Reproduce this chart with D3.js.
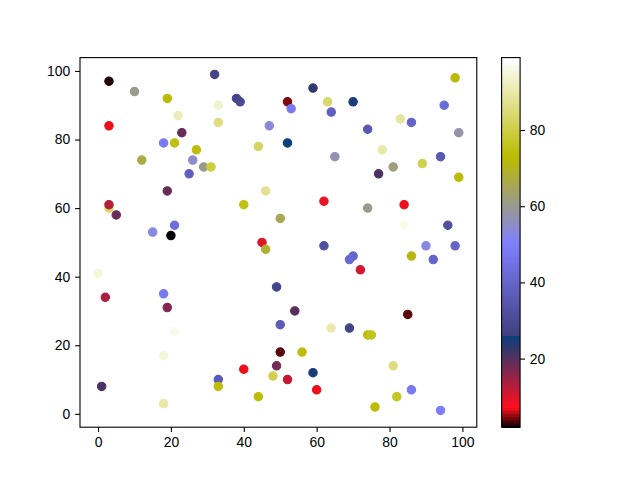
<!DOCTYPE html>
<html>
<head>
<meta charset="utf-8">
<script src="https://cdn.jsdelivr.net/npm/d3@7"></script>
<style>
  html, body { margin: 0; padding: 0; background: #fff; }
  svg text { font-family: "Liberation Sans", Arial, sans-serif; font-size: 13.9px; fill: #000; }
</style>
</head>
<body>
<svg id="chart" width="640" height="480"></svg>
<script>
// ---- data ----
const xValues = [3,10,19,22,3,23,18,21,27,12,26,29,31,25,19,3,3,5,21,15,20,
  32,38,39,33,33,52,53,59,63,64,47,52,44,65,46,40,62,50,45,62,
  98,70,95,83,86,74,99,78,94,81,89,77,99,74,84,84,96,90,98,
  0,2,18,19,21,18,1,18,
  46,49,54,50,64,50,56,40,49,48,52,59,60,33,33,44,
  70,69,86,92,72,85,69,74,75,81,73,86,82,76,94];
const yValues = [97,94,92,87,84,82,79,79,77,74,74,72,72,70,65,60,61,58,55,53,52,
  99,92,91,90,85,91,89,95,91,88,84,79,78,75,65,61,62,57,50,49,
  98,91,90,86,85,83,82,77,75,72,73,70,69,60,61,55,55,49,49,
  41,34,35,31,24,17,8,3,
  48,37,30,26,25,18,18,13,14,11,10,12,7,10,8,5,
  46,45,46,45,42,29,25,23,23,14,12,7,5,2,1];
const colorValues = [3,61,73,92,7,19,48,75,74,67,55,61,80,38,19,84,13,19,44,53,2,
  28,28,30,94,86,5,48,23,84,38,54,26,83,57,88,75,9,66,10,33,
  73,25,43,89,40,36,58,90,36,62,81,21,73,61,7,97,33,53,40,
  95,14,48,17,97,95,21,90,
  69,28,20,37,91,4,74,7,18,81,12,25,7,37,74,74,
  40,42,71,40,11,4,28,74,76,86,99,48,77,73,50];
const xTicks = [0,20,40,60,80,100];
const yTicks = [0,20,40,60,80,100];
const cTicks = [20,40,60,80];

// ---- gist_stern colormap ----
function seg(pts, t) {
  for (let i = 1; i < pts.length; i++) {
    if (t <= pts[i][0]) {
      const [x0, , y0r] = pts[i-1];
      const [x1, y1l] = pts[i];
      const f = (t - x0) / (x1 - x0);
      return y0r + f * (y1l - y0r);
    }
  }
  return pts[pts.length-1][2];
}
const RED = [[0,0,0],[0.0547,1,1],[0.25,0.027,0.25],[1,1,1]];
const GREEN = [[0,0,0],[1,1,1]];
const BLUE = [[0,0,0],[0.5,1,1],[0.735,0,0],[1,1,1]];
function gistStern(t) {
  let idx = Math.floor(t * 256);
  idx = Math.max(0, Math.min(255, idx));
  const u = idx / 255;
  const r = seg(RED, u), g = seg(GREEN, u), b = seg(BLUE, u);
  return d3.rgb(Math.round(r*255), Math.round(g*255), Math.round(b*255)).toString();
}

const vmin = d3.min(colorValues), vmax = d3.max(colorValues);
const norm = d3.scaleLinear().domain([vmin, vmax]).range([0, 1]);
const colorOf = v => gistStern(norm(v));

// ---- layout ----
const svg = d3.select("#chart");
const L = 80, R = 476.8, T = 57.6, B = 427.2;
const tick = 4.86, pad = 4.86;

const x = d3.scaleLinear().domain([-4.95, 103.95]).range([L, R]);
const y = d3.scaleLinear().domain([-3.9, 103.9]).range([B, T]);

const pts = xValues.map((xv, i) => ({x: xv, y: yValues[i], c: colorValues[i]}));

svg.append("g").selectAll("circle").data(pts).join("circle")
  .attr("cx", d => x(d.x)).attr("cy", d => y(d.y))
  .attr("r", 4.2)
  .attr("fill", d => colorOf(d.c))
  .attr("stroke", d => colorOf(d.c))
  .attr("stroke-width", 1.1);

// frame
svg.append("rect").attr("x", L).attr("y", T).attr("width", R-L).attr("height", B-T)
  .attr("fill", "none").attr("stroke", "#000").attr("stroke-width", 1.1);

const xAxis = svg.append("g").attr("transform", `translate(0,${B})`)
  .call(d3.axisBottom(x).tickValues(xTicks).tickSize(tick).tickPadding(pad).tickFormat(d3.format("d")));
const yAxis = svg.append("g").attr("transform", `translate(${L},0)`)
  .call(d3.axisLeft(y).tickValues(yTicks).tickSize(tick).tickPadding(pad).tickFormat(d3.format("d")));
[xAxis, yAxis].forEach(g => {
  g.select(".domain").remove();
  g.selectAll(".tick line").attr("stroke", "#000").attr("stroke-width", 1.1);
  g.selectAll("text").attr("font-family", null).attr("font-size", null);
});

// ---- colorbar ----
const CL = 501.6, CR = 520.1;
const cy = d3.scaleLinear().domain([vmin, vmax]).range([B, T]);
const nBins = 256;
const bins = d3.range(nBins);
svg.append("g").attr("shape-rendering", "crispEdges").selectAll("rect").data(bins).join("rect")
  .attr("x", CL).attr("width", CR - CL)
  .attr("y", i => cy(vmin + (i+1)/nBins*(vmax-vmin)))
  .attr("height", i => cy(vmin + i/nBins*(vmax-vmin)) - cy(vmin + (i+1)/nBins*(vmax-vmin)) + 1.2)
  .attr("fill", i => gistStern((i+0.5)/nBins));
svg.append("rect").attr("x", CL).attr("y", T).attr("width", CR-CL).attr("height", B-T)
  .attr("fill", "none").attr("stroke", "#000").attr("stroke-width", 1.1);
const cAxis = svg.append("g").attr("transform", `translate(${CR},0)`)
  .call(d3.axisRight(cy).tickValues(cTicks).tickSize(tick).tickPadding(pad).tickFormat(d3.format("d")));
cAxis.select(".domain").remove();
cAxis.selectAll(".tick line").attr("stroke", "#000").attr("stroke-width", 1.1);
cAxis.selectAll("text").attr("font-family", null).attr("font-size", null);
</script>
</body>
</html>
